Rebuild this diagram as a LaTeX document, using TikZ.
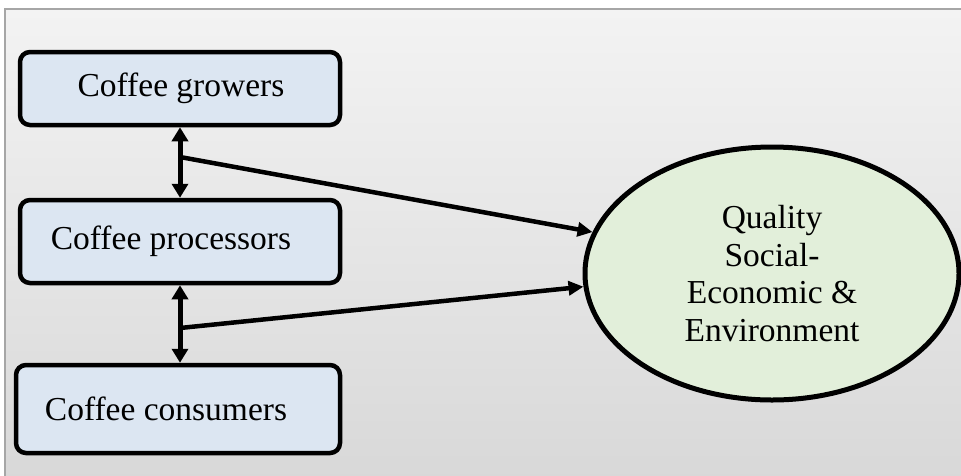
\documentclass[tikz,border=0pt]{standalone}
\usepackage{fontspec}
\setmainfont{Liberation Serif}
\usetikzlibrary{shapes.geometric,arrows.meta}
\definecolor{boxblue}{HTML}{DCE6F2}
\definecolor{ovalgreen}{HTML}{E2EFDA}
\definecolor{frameline}{HTML}{A6A6A6}
\definecolor{bgtop}{HTML}{F3F3F3}
\definecolor{bgbottom}{HTML}{D8D8D8}
\tikzset{
  actor/.style={draw=black, line width=4.5pt, fill=boxblue, rounded corners=10pt, inner sep=0pt},
  oval/.style={ellipse, draw=black, line width=5pt, fill=ovalgreen, inner sep=0pt, align=center},
  link/.style={line width=4.5pt, -{Triangle[length=15pt,width=14pt]}},
  twoway/.style={line width=5pt, {Triangle[length=14pt,width=16pt]}-{Triangle[length=14pt,width=16pt]}},
  txt/.style={font=\fontsize{33.5}{37.5}\selectfont}
}
\begin{document}
\begin{tikzpicture}[x=1pt,y=-1pt]
\useasboundingbox (0,0) rectangle (961,475);
\fill[white] (0,0) rectangle (961,475);
\draw[frameline, line width=1.5pt, top color=bgtop, bottom color=bgbottom] (5,9) rectangle (968,482);

\node[actor, minimum width=320pt, minimum height=73pt,
      label={[txt, xshift=1pt]center:Coffee growers}] (g) at (180,88.5) {};
\node[actor, minimum width=320pt, minimum height=83pt,
      label={[txt, xshift=-9pt]center:Coffee processors}] (p) at (180,241.5) {};
\node[actor, minimum width=324pt, minimum height=88pt,
      label={[txt, xshift=-12pt]center:Coffee consumers}] (c) at (178,409) {};

\node[oval, txt, minimum width=374pt, minimum height=253pt] (q) at (772,273.5)
  {Quality\\Social-\\Economic \&\\Environment};

\draw[twoway] (g.south) -- (p.north);
\draw[twoway] (p.south) -- (p.south |- c.north);

\coordinate (j1) at (180,157);
\coordinate (j2) at (180,328);
\draw[link] (j1) -- (q.167);
\draw[link] (j2) -- (q.184);
\end{tikzpicture}
\end{document}
